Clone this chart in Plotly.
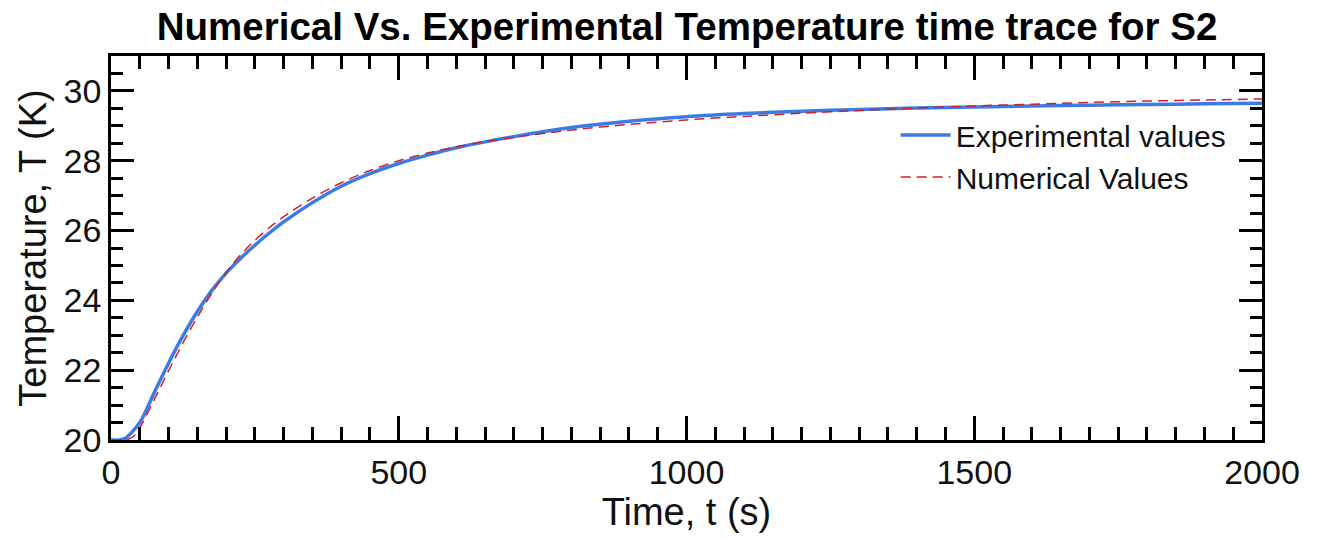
import plotly.graph_objects as go

# Experimental temperature trace for sample S2
t_exp = [0, 15, 25, 50, 75, 100, 125, 150, 175, 200, 225, 250, 275, 300, 350, 400,
         450, 500, 550, 600, 650, 700, 800, 900, 1000, 1100, 1200, 1300, 1400, 1500,
         1600, 1700, 1800, 1900, 2000]
T_exp = [20.0, 20.0, 20.05, 20.5, 21.35, 22.2, 22.98, 23.68, 24.28, 24.78, 25.2,
         25.58, 25.93, 26.25, 26.8, 27.27, 27.63, 27.92, 28.16, 28.37, 28.54, 28.69,
         28.95, 29.13, 29.26, 29.35, 29.42, 29.47, 29.51, 29.54, 29.57, 29.59, 29.61,
         29.63, 29.65]

# Numerical model prediction
t_num = [0, 20, 30, 40, 50, 75, 100, 125, 150, 175, 200, 225, 250, 275, 300, 350,
         400, 450, 500, 550, 600, 650, 700, 800, 900, 1000, 1100, 1200, 1300, 1400,
         1500, 1600, 1700, 1800, 1900, 2000]
T_num = [20.0, 20.0, 20.02, 20.12, 20.35, 21.15, 21.98, 22.78, 23.52, 24.2, 24.8,
         25.3, 25.72, 26.08, 26.4, 26.93, 27.37, 27.72, 28.0, 28.22, 28.4, 28.55,
         28.67, 28.88, 29.04, 29.17, 29.27, 29.36, 29.44, 29.51, 29.57, 29.62, 29.67,
         29.71, 29.74, 29.77]

x_ticks = [0, 500, 1000, 1500, 2000]
y_ticks = [20, 22, 24, 26, 28, 30]

FONT = "Liberation Sans, Arial, sans-serif"

fig = go.Figure()
fig.add_trace(go.Scatter(
    x=t_exp, y=T_exp, mode="lines", name="Experimental values",
    line=dict(color="#3a7be6", width=3.5, shape="spline", smoothing=0.8),
))
fig.add_trace(go.Scatter(
    x=t_num, y=T_num, mode="lines", name="Numerical Values",
    line=dict(color="#d0202a", width=1.5, dash="10px,6px", shape="spline", smoothing=0.8),
))

axis_common = dict(
    showgrid=False, zeroline=False, showline=True, linecolor="black", linewidth=2.5,
    mirror="allticks", ticks="inside", tickcolor="black", tickwidth=2.5,
    tickfont=dict(family=FONT, size=34, color="#111"),
)

fig.update_xaxes(
    range=[0, 2000], tickvals=x_ticks, ticklen=24,
    minor=dict(dtick=50, ticklen=13, ticks="inside", tickcolor="black", tickwidth=2.5),
    title=dict(text="Time, t (s)", font=dict(family=FONT, size=38, color="#111"), standoff=8),
    **axis_common,
)
fig.update_yaxes(
    range=[20, 31], tickvals=y_ticks, ticklen=23,
    minor=dict(dtick=0.5, ticklen=12, ticks="inside", tickcolor="black", tickwidth=2.5),
    title=dict(text="Temperature, T (K)", font=dict(family=FONT, size=38, color="#111"), standoff=6),
    **axis_common,
)

fig.update_layout(
    width=1317, height=539,
    margin=dict(l=111, r=55, t=56, b=99),
    paper_bgcolor="white", plot_bgcolor="white",
    title=dict(
        text="<b>Numerical Vs. Experimental Temperature time trace for S2</b>",
        font=dict(family=FONT, size=38.5, color="black"),
        x=0.5217, xanchor="center", y=0.95, yanchor="middle",
    ),
    legend=dict(
        x=0.6817, y=0.862, xanchor="left", yanchor="top",
        font=dict(family=FONT, size=30, color="#111"),
        bgcolor="rgba(0,0,0,0)", itemwidth=50,
    ),
    showlegend=True,
)

fig.write_html("out.html")
